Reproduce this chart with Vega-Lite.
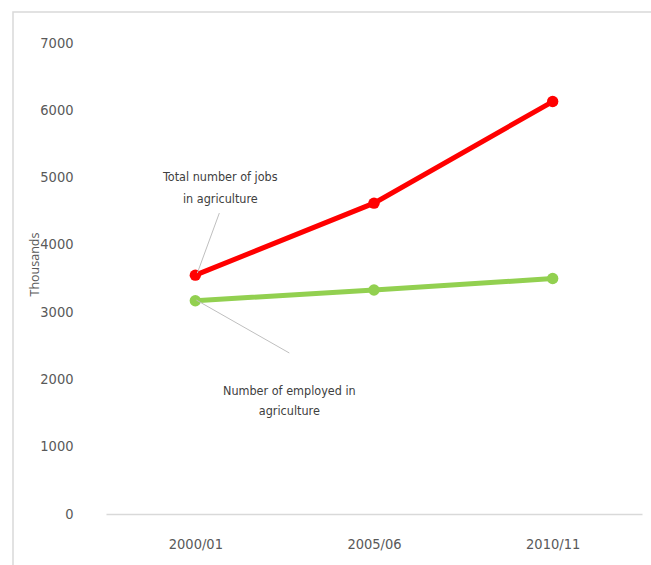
{
  "$schema": "https://vega.github.io/schema/vega-lite/v6.json",
  "width": 650,
  "height": 556,
  "autosize": {"type": "none"},
  "padding": {"left": 13, "top": 12, "right": 0, "bottom": 0},
  "background": "white",
  "config": {"view": {"stroke": "#d9d9d9", "strokeWidth": 1.5}},
  "datasets": {
    "series": [
      {"year": "2000/01", "series": "Total number of jobs in agriculture", "value": 3550},
      {"year": "2005/06", "series": "Total number of jobs in agriculture", "value": 4620},
      {"year": "2010/11", "series": "Total number of jobs in agriculture", "value": 6130},
      {"year": "2000/01", "series": "Number of employed in agriculture", "value": 3170},
      {"year": "2005/06", "series": "Number of employed in agriculture", "value": 3330},
      {"year": "2010/11", "series": "Number of employed in agriculture", "value": 3500}
    ],
    "leaderRed": [{"year": "2000/01", "value": 4473, "value2": 3581}],
    "leaderGreen": [{"year": "2000/01", "value": 3180, "value2": 2393}],
    "textRed": [
      {"year": "2000/01", "value": 5008, "text": "Total number of jobs"},
      {"year": "2000/01", "value": 4681, "text": "in agriculture"}
    ],
    "textGreen": [
      {"year": "2000/01", "value": 1828, "text": "Number of employed in"},
      {"year": "2000/01", "value": 1531, "text": "agriculture"}
    ]
  },
  "encoding": {
    "x": {
      "field": "year",
      "type": "nominal",
      "sort": ["2000/01", "2005/06", "2010/11"],
      "scale": {"type": "point", "range": [93, 629], "padding": 0.5},
      "axis": {
        "title": null,
        "offset": -54,
        "domainColor": "#d9d9d9",
        "domainWidth": 1.5,
        "ticks": false,
        "labelAngle": 0,
        "labelPadding": 23,
        "labelFont": "DejaVu Sans Condensed",
        "labelFontSize": 14.5,
        "labelColor": "#595959"
      }
    },
    "y": {
      "field": "value",
      "type": "quantitative",
      "scale": {"domain": [-802, 7461], "nice": false, "zero": false},
      "axis": {
        "values": [0, 1000, 2000, 3000, 4000, 5000, 6000, 7000],
        "format": "d",
        "offset": -93,
        "domain": false,
        "ticks": false,
        "grid": false,
        "labelPadding": 33,
        "labelFont": "DejaVu Sans Condensed",
        "labelFontSize": 14.5,
        "labelColor": "#595959",
        "title": "Thousands",
        "titleFont": "Open Sans",
        "titleFontSize": 12.5,
        "titleFontWeight": "normal",
        "titleColor": "#595959",
        "titleX": -72,
        "titleY": 252,
        "titleAlign": "center",
        "titleBaseline": "middle",
        "titleAngle": -90
      }
    }
  },
  "layer": [
    {
      "data": {"name": "series"},
      "mark": {"type": "line", "strokeWidth": 5},
      "encoding": {
        "color": {
          "field": "series",
          "type": "nominal",
          "scale": {"domain": ["Total number of jobs in agriculture", "Number of employed in agriculture"], "range": ["#ff0000", "#92d050"]},
          "legend": null
        }
      }
    },
    {
      "data": {"name": "series"},
      "mark": {"type": "point", "filled": true, "size": 130, "opacity": 1},
      "encoding": {
        "color": {"field": "series", "type": "nominal", "legend": null}
      }
    },
    {
      "data": {"name": "leaderRed"},
      "mark": {"type": "rule", "color": "#bfbfbf", "strokeWidth": 1, "xOffset": 24, "x2Offset": 2},
      "encoding": {
        "x2": {"field": "year"},
        "y2": {"field": "value2"}
      }
    },
    {
      "data": {"name": "leaderGreen"},
      "mark": {"type": "rule", "color": "#bfbfbf", "strokeWidth": 1, "xOffset": 1, "x2Offset": 94},
      "encoding": {
        "x2": {"field": "year"},
        "y2": {"field": "value2"}
      }
    },
    {
      "data": {"name": "textRed"},
      "mark": {"type": "text", "dx": 25, "align": "center", "baseline": "middle", "font": "DejaVu Sans Condensed", "fontSize": 12.5, "color": "#404040"},
      "encoding": {"text": {"field": "text"}}
    },
    {
      "data": {"name": "textGreen"},
      "mark": {"type": "text", "dx": 94, "align": "center", "baseline": "middle", "font": "DejaVu Sans Condensed", "fontSize": 12.5, "color": "#404040"},
      "encoding": {"text": {"field": "text"}}
    }
  ]
}
